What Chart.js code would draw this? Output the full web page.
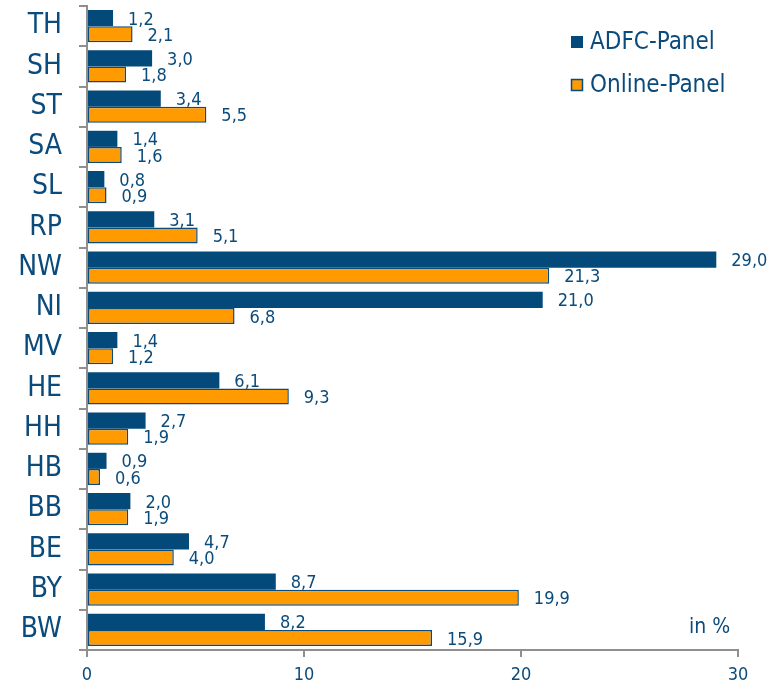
<!DOCTYPE html>
<html>
<head>
<meta charset="utf-8">
<script src="https://cdn.jsdelivr.net/npm/chart.js@4/dist/chart.umd.min.js"></script>
<style>
  html, body { margin: 0; padding: 0; background: #ffffff; }
  #wrap { width: 777px; height: 685px; }
</style>
</head>
<body>
<div id="wrap"><canvas id="c" width="777" height="685"></canvas></div>
<script>
// Bundesländer, top to bottom
const states = ['TH','SH','ST','SA','SL','RP','NW','NI','MV','HE','HH','HB','BB','BE','BY','BW'];
// Share of respondents per state, in %
const adfcPanel   = [1.2, 3.0, 3.4, 1.4, 0.8, 3.1, 29.0, 21.0, 1.4, 6.1, 2.7, 0.9, 2.0, 4.7, 8.7, 8.2];
const onlinePanel = [2.1, 1.8, 5.5, 1.6, 0.9, 5.1, 21.3, 6.8, 1.2, 9.3, 1.9, 0.6, 1.9, 4.0, 19.9, 15.9];
const seriesNames = ['ADFC-Panel', 'Online-Panel'];
const xTicks = [0, 10, 20, 30];
const unitLabel = 'in %';

const BLUE = '#034a7b';
const ORANGE = '#ff9a00';
const TEXT = '#0b4b7b';
const AXIS = '#8f8f8f';
const FONT = "'Liberation Sans Narrow', 'DejaVu Sans Condensed', 'Liberation Sans', sans-serif";

const fmt = v => v.toFixed(1).replace('.', ',');

// value labels next to each bar, legend and unit note
const decorations = {
  id: 'decorations',
  afterDatasetsDraw(chart) {
    const ctx = chart.ctx;
    ctx.save();
    ctx.fillStyle = TEXT;
    ctx.font = '18px ' + FONT;
    ctx.textAlign = 'left';
    ctx.textBaseline = 'middle';
    chart.data.datasets.forEach((ds, di) => {
      const meta = chart.getDatasetMeta(di);
      meta.data.forEach((bar, i) => {
        ctx.fillText(fmt(ds.data[i]), bar.x + 15, bar.y + 2);
      });
    });

    // legend
    const items = [
      { label: seriesNames[0], fill: BLUE, stroke: null, y: 42 },
      { label: seriesNames[1], fill: ORANGE, stroke: TEXT, y: 85 }
    ];
    items.forEach(it => {
      ctx.fillStyle = it.fill;
      ctx.fillRect(571, it.y - 6, 12, 12);
      if (it.stroke) {
        ctx.strokeStyle = it.stroke;
        ctx.lineWidth = 1.5;
        ctx.strokeRect(571.5, it.y - 5.5, 11, 11);
      }
      ctx.fillStyle = TEXT;
      ctx.font = '24px ' + FONT;
      ctx.textBaseline = 'middle';
      ctx.fillText(it.label, 590, it.y + 1);
    });

    ctx.font = '21px ' + FONT;
    ctx.fillText(unitLabel, 689, 628);
    ctx.restore();
  }
};

new Chart(document.getElementById('c'), {
  type: 'bar',
  data: {
    labels: states,
    datasets: [
      { label: seriesNames[0], data: adfcPanel, backgroundColor: BLUE, borderWidth: 0,
        categoryPercentage: 0.8, barPercentage: 1.0 },
      { label: seriesNames[1], data: onlinePanel, backgroundColor: ORANGE, borderColor: TEXT,
        borderWidth: 1.5, borderSkipped: false, categoryPercentage: 0.8, barPercentage: 1.0 }
    ]
  },
  options: {
    indexAxis: 'y',
    responsive: false,
    animation: false,
    devicePixelRatio: 1,
    layout: { padding: { top: 6, right: 39, left: 0, bottom: 0 } },
    plugins: { legend: { display: false }, tooltip: { enabled: false } },
    scales: {
      x: {
        min: 0, max: 30,
        afterBuildTicks: s => { s.ticks = xTicks.map(v => ({ value: v })); },
        afterFit: s => { s.height = 35; s.paddingLeft = 0; s.paddingRight = 0; },
        ticks: { color: TEXT, font: { family: FONT, size: 18 }, padding: 8 },
        grid: { drawOnChartArea: false, tickLength: 7, color: AXIS, lineWidth: 2 },
        border: { color: AXIS, width: 2 }
      },
      y: {
        afterFit: s => { s.width = 87; s.paddingTop = 0; s.paddingBottom = 0; },
        ticks: { color: TEXT, font: { family: FONT, size: 28 }, padding: 17 },
        grid: { offset: true, drawOnChartArea: false, tickLength: 8, color: AXIS, lineWidth: 2 },
        border: { color: AXIS, width: 2 }
      }
    }
  },
  plugins: [decorations]
});
</script>
</body>
</html>
